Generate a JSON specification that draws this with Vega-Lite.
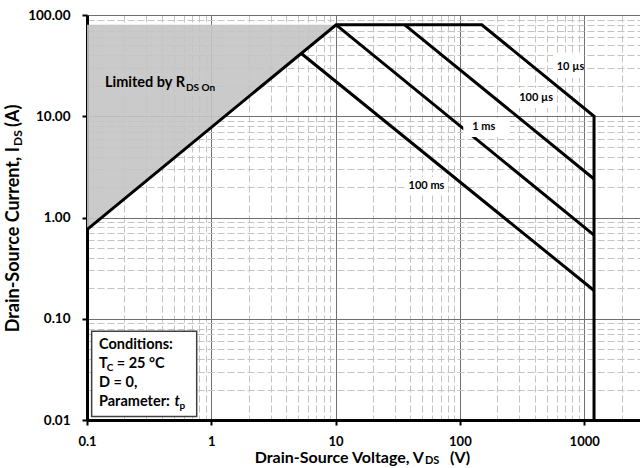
{
  "$schema": "https://vega.github.io/schema/vega-lite/v6.json",
  "width": 553,
  "height": 405,
  "autosize": {"type": "none"},
  "padding": {"left": 87, "top": 15, "right": 0, "bottom": 48},
  "background": "white",
  "config": {"view": {"stroke": null}, "font": "Lato"},
  "datasets": {
    "curves": [
      {"s": "a", "o": 1, "x": 0.1, "y": 0.76},
      {"s": "a", "o": 2, "x": 10.1, "y": 80},
      {"s": "a", "o": 3, "x": 150, "y": 80},
      {"s": "a", "o": 4, "x": 1200, "y": 10},
      {"s": "a", "o": 5, "x": 1200, "y": 0.01},
      {"s": "b", "o": 1, "x": 36, "y": 80},
      {"s": "b", "o": 2, "x": 1200, "y": 2.4},
      {"s": "c", "o": 1, "x": 10.1, "y": 80},
      {"s": "c", "o": 2, "x": 1200, "y": 0.67},
      {"s": "d", "o": 1, "x": 5.3, "y": 41.7},
      {"s": "d", "o": 2, "x": 1200, "y": 0.19}
    ],
    "shade": [
      {"x": 0.1, "y": 0.76, "y2": 80},
      {"x": 10.1, "y": 80, "y2": 80}
    ],
    "boxes": [
      {"x": 561, "x2": 990, "y": 40.3, "y2": 23.9},
      {"x": 286, "x2": 564, "y": 19.0, "y2": 12.06},
      {"x": 106.4, "x2": 253, "y": 9.6, "y2": 6.24},
      {"x": 36.2, "x2": 80.2, "y": 2.51, "y2": 1.667}
    ],
    "cond": [{"x": 0.109, "x2": 0.763, "y": 0.0753, "y2": 0.0108}],
    "curveLabels": [
      {"t": "10 µs", "x": 776, "y": 30.9},
      {"t": "100 µs", "x": 411, "y": 15.0},
      {"t": "1 ms", "x": 155.6, "y": 7.78},
      {"t": "100 ms", "x": 53.9, "y": 2.05}
    ],
    "limited": [{"t": "Limited by R", "x": 0.614, "y": 21.3}],
    "limitedSub": [{"t": "DS On", "x": 0.614, "y": 21.3}],
    "condText": [
      {"t": "Conditions:", "x": 0.1249, "y": 0.0551},
      {"t": "T", "x": 0.1249, "y": 0.0355},
      {"t": "= 25 °C", "x": 0.1734, "y": 0.0355},
      {"t": "D = 0,", "x": 0.1249, "y": 0.0230},
      {"t": "Parameter:", "x": 0.1249, "y": 0.01517}
    ],
    "condItalic": [{"t": "t", "x": 0.505, "y": 0.01517}],
    "condSub": [
      {"t": "C", "x": 0.144, "y": 0.0355},
      {"t": "p", "x": 0.556, "y": 0.01517}
    ],
    "xTitleMain": [{"t": "Drain-Source Voltage, V", "x": 51.4, "y": 0.01}],
    "xTitleEnd": [{"t": "(V)", "x": 83.2, "y": 0.01}],
    "xTitleSub": [{"t": "DS", "x": 51.4, "y": 0.01}],
    "yTitleMain": [{"t": "Drain-Source Current, I", "x": 0.1, "y": 4.97}],
    "yTitleEnd": [{"t": "(A)", "x": 0.1, "y": 7.83}],
    "yTitleSub": [{"t": "DS", "x": 0.1, "y": 4.97}]
  },
  "encoding": {
    "x": {
      "field": "x",
      "type": "quantitative",
      "scale": {"type": "log", "domain": [0.1, 2812], "nice": false},
      "axis": {
        "title": null,
        "values": [0.1, 0.2, 0.3, 0.4, 0.5, 0.6, 0.7, 0.8, 0.9, 1, 2, 3, 4, 5, 6, 7, 8, 9, 10, 20, 30, 40, 50, 60, 70, 80, 90, 100, 200, 300, 400, 500, 600, 700, 800, 900, 1000, 2000],
        "labelExpr": "abs(log(datum.value)/LN10 - round(log(datum.value)/LN10)) < 0.01 ? format(datum.value, '~g') : ''",
        "labelOverlap": false,
        "labelFlush": false,
        "labelFont": "Lato",
        "labelFontWeight": "bold",
        "labelFontSize": 13,
        "labelColor": "black",
        "labelPadding": 10,
        "domainColor": "black",
        "domainWidth": 3,
        "tickColor": "black",
        "tickWidth": 2,
        "tickSize": 5,
        "tickOpacity": {"condition": {"test": "abs(log(datum.value)/LN10 - round(log(datum.value)/LN10)) < 0.01", "value": 1}, "value": 0},
        "grid": true,
        "gridColor": {"condition": {"test": "abs(log(datum.value)/LN10 - round(log(datum.value)/LN10)) < 0.01", "value": "#707070"}, "value": "#c4c4c4"},
        "gridDash": {"condition": {"test": "abs(log(datum.value)/LN10 - round(log(datum.value)/LN10)) < 0.01", "value": []}, "value": [7, 3]},
        "gridWidth": 1
      }
    },
    "y": {
      "field": "y",
      "type": "quantitative",
      "scale": {"type": "log", "domain": [0.01, 100], "nice": false},
      "axis": {
        "title": null,
        "values": [0.01, 0.02, 0.03, 0.04, 0.05, 0.06, 0.07, 0.08, 0.09, 0.1, 0.2, 0.3, 0.4, 0.5, 0.6, 0.7, 0.8, 0.9, 1, 2, 3, 4, 5, 6, 7, 8, 9, 10, 20, 30, 40, 50, 60, 70, 80, 90, 100],
        "labelExpr": "abs(log(datum.value)/LN10 - round(log(datum.value)/LN10)) < 0.01 ? format(datum.value, '.2f') : ''",
        "labelOverlap": false,
        "labelFlush": false,
        "labelFont": "Lato",
        "labelFontWeight": "bold",
        "labelFontSize": 13.5,
        "labelColor": "black",
        "labelPadding": 12,
        "domainColor": "black",
        "domainWidth": 3,
        "tickColor": "black",
        "tickWidth": 2,
        "tickSize": 5,
        "tickOpacity": {"condition": {"test": "abs(log(datum.value)/LN10 - round(log(datum.value)/LN10)) < 0.01", "value": 1}, "value": 0},
        "grid": true,
        "gridColor": {"condition": {"test": "abs(log(datum.value)/LN10 - round(log(datum.value)/LN10)) < 0.01", "value": "#707070"}, "value": "#c4c4c4"},
        "gridDash": {"condition": {"test": "abs(log(datum.value)/LN10 - round(log(datum.value)/LN10)) < 0.01", "value": []}, "value": [7, 3]},
        "gridWidth": 1
      }
    }
  },
  "layer": [
    {
      "data": {"name": "shade"},
      "mark": {"type": "area", "fill": "#c4c4c4", "fillOpacity": 0.9},
      "encoding": {"y2": {"field": "y2"}}
    },
    {
      "data": {"name": "curves"},
      "mark": {"type": "line", "color": "black", "strokeWidth": 3},
      "encoding": {
        "detail": {"field": "s"},
        "order": {"field": "o", "type": "quantitative"}
      }
    },
    {
      "data": {"name": "boxes"},
      "mark": {"type": "rect", "fill": "white"},
      "encoding": {"x2": {"field": "x2"}, "y2": {"field": "y2"}}
    },
    {
      "data": {"name": "cond"},
      "mark": {"type": "rect", "fill": "white", "stroke": "#404040", "strokeWidth": 1.5},
      "encoding": {"x2": {"field": "x2"}, "y2": {"field": "y2"}}
    },
    {
      "data": {"name": "curveLabels"},
      "mark": {"type": "text", "font": "Lato", "fontWeight": "bold", "fontSize": 11, "color": "black", "align": "center", "baseline": "middle"},
      "encoding": {"text": {"field": "t"}}
    },
    {
      "data": {"name": "limited"},
      "mark": {"type": "text", "font": "Lato", "fontWeight": "bold", "fontSize": 14.5, "color": "black", "align": "right", "baseline": "middle"},
      "encoding": {"text": {"field": "t"}}
    },
    {
      "data": {"name": "limitedSub"},
      "mark": {"type": "text", "font": "Lato", "fontWeight": "bold", "fontSize": 10, "color": "black", "align": "left", "baseline": "middle", "dx": 1, "dy": 5},
      "encoding": {"text": {"field": "t"}}
    },
    {
      "data": {"name": "condText"},
      "mark": {"type": "text", "font": "Lato", "fontWeight": "bold", "fontSize": 14.5, "color": "black", "align": "left", "baseline": "middle"},
      "encoding": {"text": {"field": "t"}}
    },
    {
      "data": {"name": "condItalic"},
      "mark": {"type": "text", "font": "Lato", "fontWeight": "bold", "fontStyle": "italic", "fontSize": 14.5, "color": "black", "align": "left", "baseline": "middle"},
      "encoding": {"text": {"field": "t"}}
    },
    {
      "data": {"name": "condSub"},
      "mark": {"type": "text", "font": "Lato", "fontWeight": "bold", "fontSize": 10, "color": "black", "align": "left", "baseline": "middle", "dy": 4},
      "encoding": {"text": {"field": "t"}}
    },
    {
      "data": {"name": "xTitleMain"},
      "mark": {"type": "text", "font": "Lato", "fontWeight": "bold", "fontSize": 16, "color": "black", "align": "right", "baseline": "middle", "dy": 38},
      "encoding": {"text": {"field": "t"}}
    },
    {
      "data": {"name": "xTitleEnd"},
      "mark": {"type": "text", "font": "Lato", "fontWeight": "bold", "fontSize": 16, "color": "black", "align": "left", "baseline": "middle", "dy": 38},
      "encoding": {"text": {"field": "t"}}
    },
    {
      "data": {"name": "xTitleSub"},
      "mark": {"type": "text", "font": "Lato", "fontWeight": "bold", "fontSize": 11, "color": "black", "align": "left", "baseline": "middle", "dx": 1, "dy": 41},
      "encoding": {"text": {"field": "t"}}
    },
    {
      "data": {"name": "yTitleMain"},
      "mark": {"type": "text", "font": "Lato", "fontWeight": "bold", "fontSize": 18, "color": "black", "align": "right", "baseline": "middle", "angle": 270, "dy": -73},
      "encoding": {"text": {"field": "t"}}
    },
    {
      "data": {"name": "yTitleEnd"},
      "mark": {"type": "text", "font": "Lato", "fontWeight": "bold", "fontSize": 18, "color": "black", "align": "left", "baseline": "middle", "angle": 270, "dy": -73},
      "encoding": {"text": {"field": "t"}}
    },
    {
      "data": {"name": "yTitleSub"},
      "mark": {"type": "text", "font": "Lato", "fontWeight": "bold", "fontSize": 12, "color": "black", "align": "left", "baseline": "middle", "angle": 270, "dx": 1, "dy": -69},
      "encoding": {"text": {"field": "t"}}
    }
  ]
}
